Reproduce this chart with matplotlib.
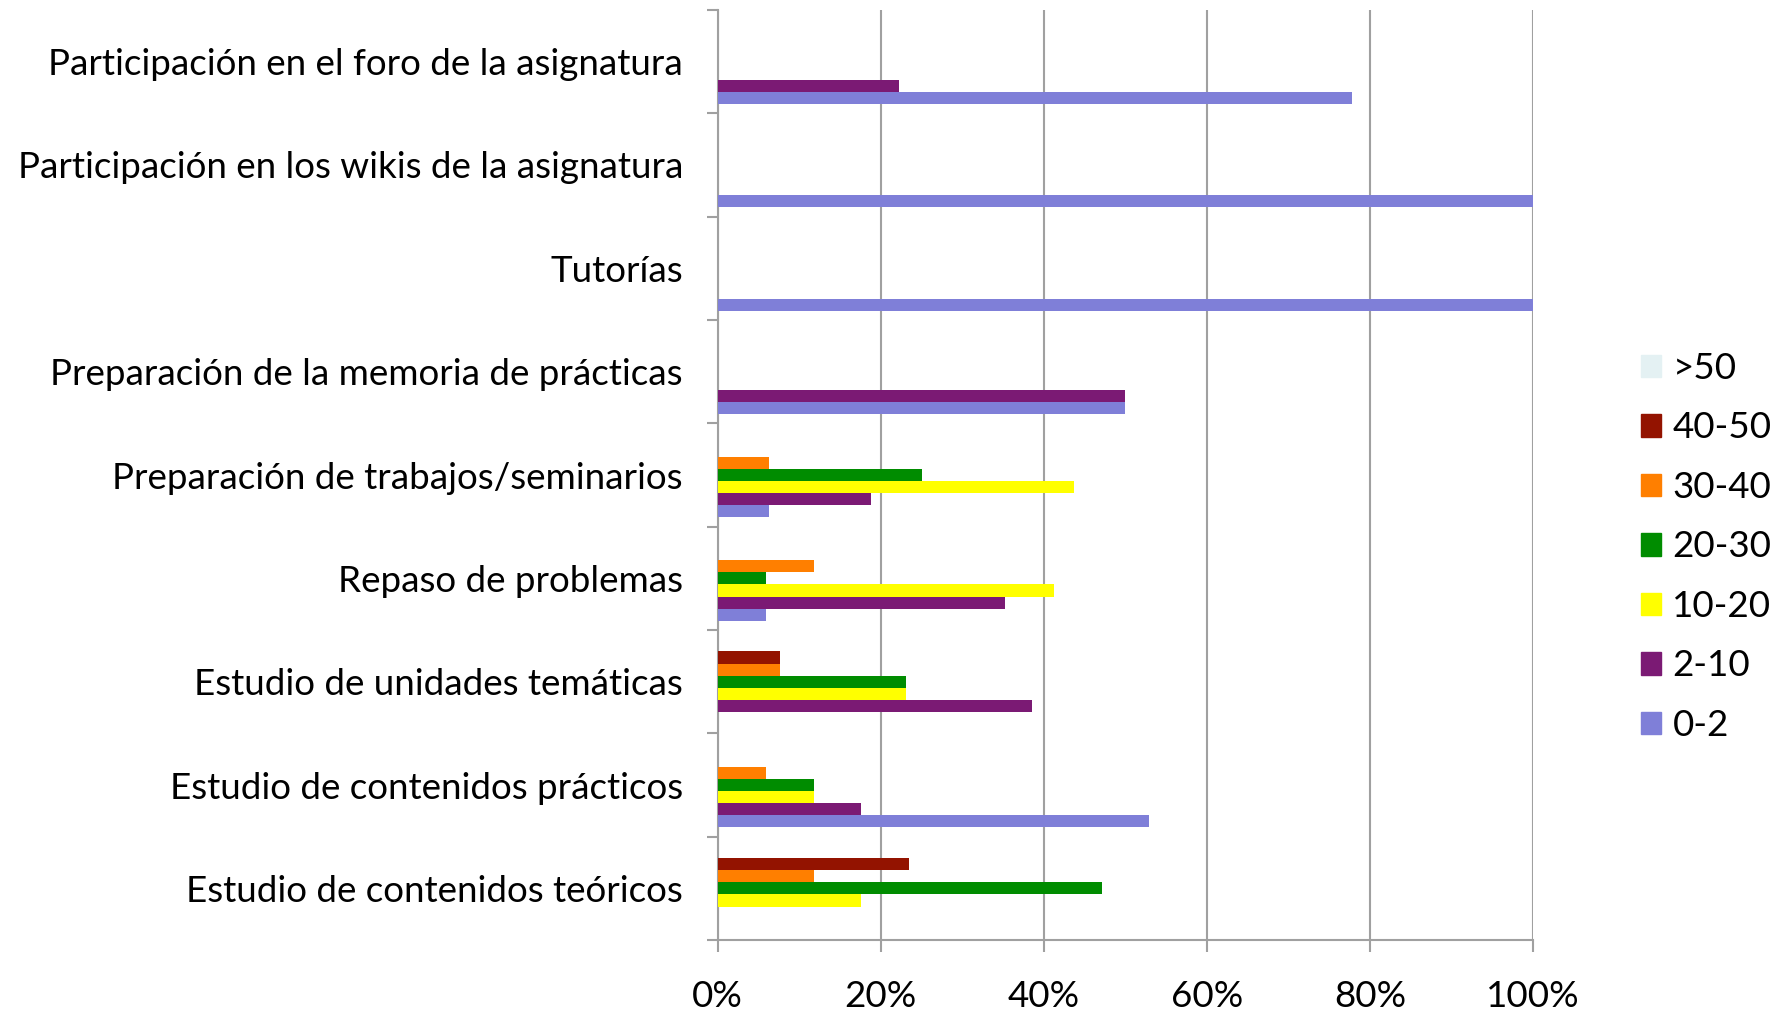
import numpy as np
import matplotlib
matplotlib.use('Agg')
import matplotlib.pyplot as plt
from matplotlib.patches import Patch

plt.rcParams['font.family'] = ['Lato', 'DejaVu Sans']

# categories, bottom to top
categories = ['Estudio de contenidos teóricos',
              'Estudio de contenidos prácticos',
              'Estudio de unidades temáticas',
              'Repaso de problemas',
              'Preparación de trabajos/seminarios',
              'Preparación de la memoria de prácticas',
              'Tutorías',
              'Participación en los wikis de la asignatura',
              'Participación en el foro de la asignatura']

series_names = ['0-2', '2-10', '10-20', '20-30', '30-40', '40-50', '>50']

# percentages per series, same order as categories
s_0_2 = [0, 52.9, 0, 5.9, 6.25, 50, 100, 100, 77.8]
s_2_10 = [0, 17.6, 38.5, 35.3, 18.75, 50, 0, 0, 22.2]
s_10_20 = [17.6, 11.8, 23.1, 41.2, 43.75, 0, 0, 0, 0]
s_20_30 = [47.1, 11.8, 23.1, 5.9, 25.0, 0, 0, 0, 0]
s_30_40 = [11.8, 5.9, 7.7, 11.8, 6.25, 0, 0, 0, 0]
s_40_50 = [23.5, 0, 7.7, 0, 0, 0, 0, 0, 0]
s_50 = [0, 0, 0, 0, 0, 0, 0, 0, 0]

series_vals = [s_0_2, s_2_10, s_10_20, s_20_30, s_30_40, s_40_50, s_50]
colors = ['#7F7FD8', '#7B1A74', '#FFFF00', '#008C00', '#FF7F00', '#931300', '#E4F1F3']

fs = 26.5

fig = plt.figure(figsize=(17.8, 10.19), dpi=100)
ax = fig.add_axes([0.4032, 0.0775, 0.4580, 0.9127])

y = np.arange(len(categories))
h = 0.82 / len(series_names)
for j, (vals, c) in enumerate(zip(series_vals, colors)):
    ax.barh(y + (j - 3) * h, vals, height=h, color=c, zorder=3)

ax.set_xlim(0, 100)
ax.set_ylim(-0.5, len(categories) - 0.5)
ax.set_xticks([0, 20, 40, 60, 80, 100])
ax.set_xticklabels(['0%', '20%', '40%', '60%', '80%', '100%'])
ax.set_yticks(y)
ax.set_yticklabels(categories)
ax.set_yticks(np.arange(len(categories) + 1) - 0.5, minor=True)

grid_c = '#A0A0A0'
ax.grid(axis='x', color=grid_c, linewidth=1.5, zorder=1)
for s in ['top', 'right']:
    ax.spines[s].set_visible(False)
for s in ['left', 'bottom']:
    ax.spines[s].set_color(grid_c)
    ax.spines[s].set_linewidth(1.5)

ax.tick_params(axis='y', which='major', length=0, pad=25, labelsize=fs)
ax.tick_params(axis='y', which='minor', length=8, width=1.5, color=grid_c, direction='out')
ax.tick_params(axis='x', length=8.5, width=1.5, color=grid_c, pad=20, labelsize=fs)

handles = [Patch(color=c) for c in colors][::-1]
labels = series_names[::-1]
fig.legend(handles, labels, loc='center left', bbox_to_anchor=(0.922, 0.4632),
           frameon=False, fontsize=fs, handlelength=0.55, handleheight=0.55,
           handletextpad=0.3, labelspacing=0.72, borderpad=0, borderaxespad=0)

fig.savefig('out.png', dpi=100)
